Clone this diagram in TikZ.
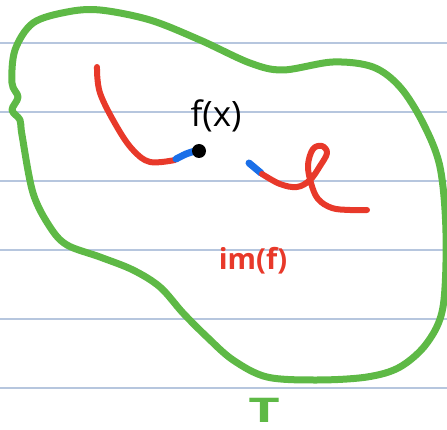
\documentclass[tikz,border=0pt]{standalone}
\usepackage{fontspec}
\setsansfont{Open Sans}
\definecolor{penred}{HTML}{E8392A}
\definecolor{penblue}{HTML}{1A6FE8}
\definecolor{pengreen}{HTML}{5EB946}
\definecolor{ruled}{HTML}{B6C6DE}

\begin{document}
\begin{tikzpicture}[
  x=1pt,y=-1pt,
  rule/.style={draw=ruled,line width=1.4pt},
  blob/.style={draw=pengreen,line width=7pt,line join=round},
  redpen/.style={draw=penred,line width=6pt,line cap=round,line join=round},
  bluepen/.style={draw=penblue,line width=7pt,line cap=round},
  label/.style={font=\sffamily,inner sep=0pt},
]
\useasboundingbox (0,0) rectangle (447,430);

% ruled paper
\foreach \y in {43,112,181,250,319,388}
  \draw[rule] (0,\y) -- (447,\y);

% the set T
\draw[blob] plot[smooth cycle,tension=0.55] coordinates {
  (15,50) (33,23) (67,12) (100,10) (150,20) (200,40) (250,63) (283,70)
  (333,62) (373,67) (400,87) (423,123) (440,167) (446,233) (443,307)
  (427,343) (400,367) (367,377) (317,380) (267,377) (233,360) (207,337)
  (183,313) (160,287) (133,270) (100,257) (67,245) (50,227) (33,193)
  (22,135) (20,120) (12,110) (18,97) (12,83)};

% image of f
\draw[redpen] plot[smooth,tension=0.6] coordinates {
  (97,67) (100,93) (117,127) (133,150) (150,162) (175,160)};
\draw[bluepen] plot[smooth] coordinates {(176,159) (186,154) (195,151)};
\fill (199,151) circle (7);
\node[label,font=\sffamily\fontsize{35}{40}\selectfont] (fx) at (216,116) {f(x)};

\draw[bluepen] (249,163) -- (261,173);
\draw[redpen] plot[smooth,tension=0.6] coordinates {
  (262,174) (280,184) (297,187) (310,180) (320,166) (327,153) (322,146)
  (313,149) (308,165) (311,183) (318,199) (332,208) (350,210) (367,210)};

\node[label,text=pengreen,font=\sffamily\bfseries\fontsize{34}{38}\selectfont,
  xscale=1.6] (T) at (264,410) {T};
\node[label,text=penred,font=\sffamily\bfseries\fontsize{29}{34}\selectfont] (imf) at (253,261) {im(f)};

\end{tikzpicture}
\end{document}
